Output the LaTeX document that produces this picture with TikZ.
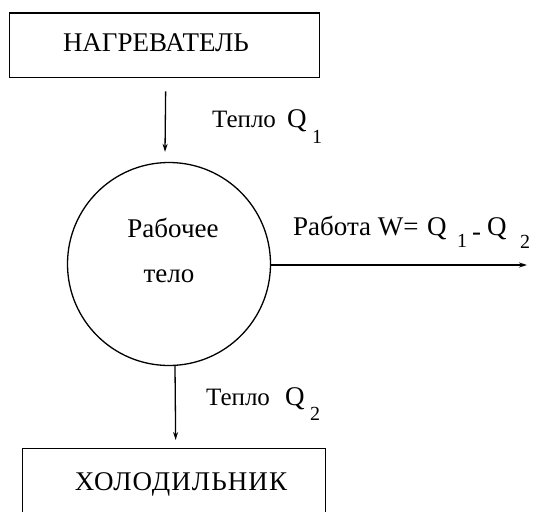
\documentclass[tikz,border=0pt]{standalone}
\usepackage{fontspec}
\setmainfont{Liberation Serif}
\usetikzlibrary{arrows.meta,calc}
\begin{document}
\begin{tikzpicture}[x=1pt,y=1pt,
  box/.style={draw, line width=1.3pt, inner sep=0pt},
  lbl/.style={font=\fontsize{27}{32}\selectfont, inner sep=0pt},
  heat/.style={font=\fontsize{25}{30}\selectfont, inner sep=0pt},
  arr/.style={line width=1.3pt, -{Stealth[length=8pt,width=5pt]}}]
\useasboundingbox (0,0) rectangle (534,-511);
\clip (0,0) rectangle (534,-511);
% boxes
\node[box, minimum width=310pt, minimum height=64pt, anchor=north west] (hot) at (8.5,-12.5) {};
\node[lbl, anchor=base] (hottext) at (156,-51) {НАГРЕВАТЕЛЬ};
\node[box, minimum width=303pt, minimum height=80pt, anchor=north west] (cold) at (22,-448) {};
\node[lbl, anchor=base] (coldtext) at (181,-490) {\addfontfeature{LetterSpace=4}ХОЛОДИЛЬНИК};
% working body
\node[circle, draw, line width=1.3pt, minimum size=203pt, inner sep=0pt] (body) at (169,-264) {};
\node[lbl, anchor=base] (bodytext1) at (173,-237) {Рабочее};
\node[lbl, anchor=base] (bodytext2) at (169,-282) {тело};
% arrows
\draw[arr] ($(hot.south)+(1.5,-13.5)$) -- ($(body.north)+(-4,10)$);
\coordinate (workend) at (527,-265);
\draw[arr] ($(body.east)+(0,-1)$) -- (workend);
\draw[arr] ($(body.south)+(6,0)$) -- ($(cold.north)+(1.5,8)$);
% labels
\node[heat, anchor=base west] (q1) at (212,-127)
  {\rlap{Тепло}\rlap{\hspace{75pt}\fontsize{27}{32}\selectfont Q}\hspace{100pt}\raisebox{-16pt}{\fontsize{20}{20}\selectfont 1}};
\node[heat, anchor=base west] (q2) at (206,-405)
  {\rlap{Тепло}\rlap{\hspace{79pt}\fontsize{27}{32}\selectfont Q}\hspace{104pt}\raisebox{-15pt}{\fontsize{20}{20}\selectfont 2}};
\node[lbl, anchor=base west] (work) at (293,-235)
  {\rlap{Работа W=}\rlap{\hspace{134pt}Q}\rlap{\hspace{164pt}\raisebox{-12pt}{\fontsize{20}{20}\selectfont 1}}\rlap{\hspace{179pt}\raisebox{-5pt}{-}}\rlap{\hspace{194pt}Q}\hspace{227pt}\raisebox{-13pt}{\fontsize{20}{20}\selectfont 2}};
\end{tikzpicture}
\end{document}
